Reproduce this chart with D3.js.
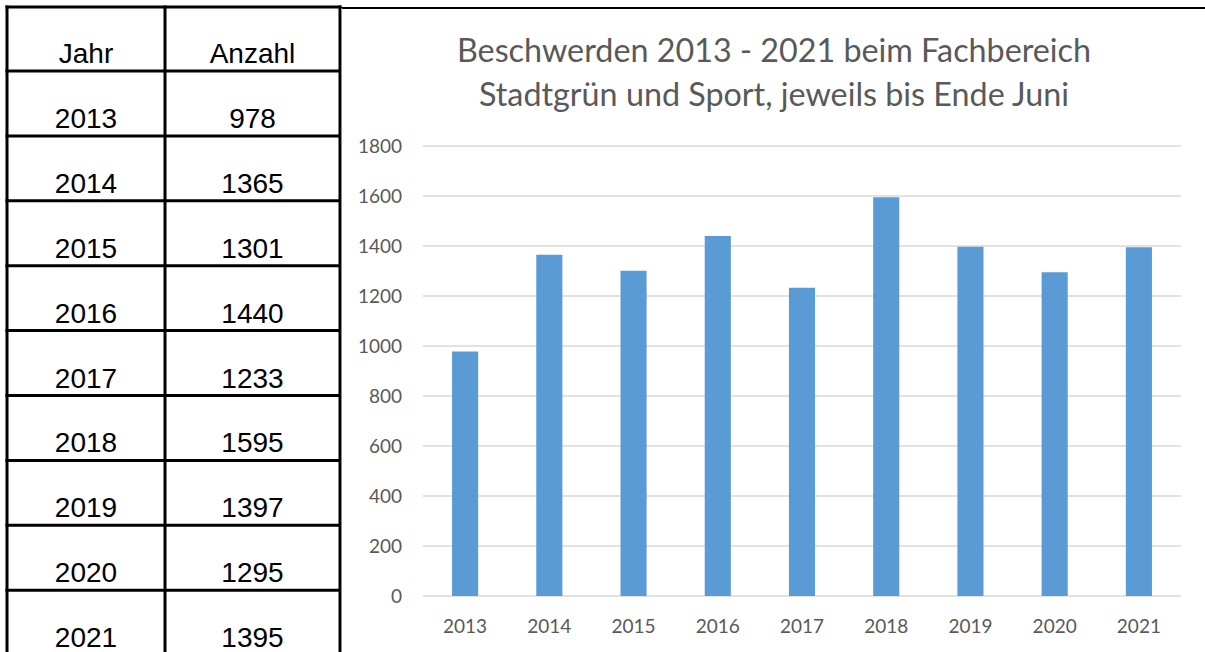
<!DOCTYPE html>
<html><head><meta charset="utf-8">
<script src="https://cdn.jsdelivr.net/npm/d3@7"></script>
<style>body{margin:0;background:#fff;}svg{display:block;}</style>
</head><body>
<svg id="c" width="1205" height="652"></svg>
<script>
const years = ["2013","2014","2015","2016","2017","2018","2019","2020","2021"];
const counts = [978,1365,1301,1440,1233,1595,1397,1295,1395];
const yTicks = [0,200,400,600,800,1000,1200,1400,1600,1800];
const tableHeader = ["Jahr","Anzahl"];
const titleLines = ["Beschwerden 2013 - 2021 beim Fachbereich","Stadtgrün und Sport, jeweils bis Ende Juni"];

(function(){
const svg = d3.select("#c");

// ---- Table ----
const tX = [7,165,340];
const rowTop = 7, headerBottom = 71, rowH = 64.9;
const rowLines = [rowTop, headerBottom];
for (let i=1;i<=years.length;i++) rowLines.push(headerBottom + i*rowH);
const tbl = svg.append("g");
rowLines.forEach(yy=>{
  tbl.append("line").attr("x1",tX[0]-1.5).attr("x2",tX[2]+1.5).attr("y1",yy).attr("y2",yy)
    .attr("stroke","#000").attr("stroke-width",3);
});
tX.forEach(xx=>{
  tbl.append("line").attr("x1",xx).attr("x2",xx).attr("y1",rowTop-1.5).attr("y2",700)
    .attr("stroke","#000").attr("stroke-width",3);
});
const colC = [(tX[0]+tX[1])/2+0,(tX[1]+tX[2])/2];
const tfont = "Liberation Sans, Arial, sans-serif";
const tsize = 28;
tableHeader.forEach((h,i)=>{
  tbl.append("text").attr("x",colC[i]).attr("y",headerBottom-8).attr("text-anchor","middle")
    .attr("font-family",tfont).attr("font-size",tsize).text(h);
});
years.forEach((yr,r)=>{
  const base = headerBottom + (r+1)*rowH - 8;
  tbl.append("text").attr("x",colC[0]).attr("y",base).attr("text-anchor","middle")
    .attr("font-family",tfont).attr("font-size",tsize).text(yr);
  tbl.append("text").attr("x",colC[1]).attr("y",base).attr("text-anchor","middle")
    .attr("font-family",tfont).attr("font-size",tsize).text(counts[r]);
});

// chart frame lines
svg.append("line").attr("x1",340).attr("x2",1205).attr("y1",8).attr("y2",8).attr("stroke","#000").attr("stroke-width",2);
svg.append("line").attr("x1",341.5).attr("x2",341.5).attr("y1",8).attr("y2",652).attr("stroke","#8c8c8c").attr("stroke-width",1);

// ---- Chart ----
const pL = 423, pR = 1181, pT = 146, pB = 596;
const x = d3.scaleBand().domain(years).range([pL,pR]).paddingInner(0.69).paddingOuter(0.345);
const y = d3.scaleLinear().domain([0,1800]).range([pB,pT]);

const font = "Lato, 'Open Sans', sans-serif";
const g = svg.append("g");
g.selectAll("line.grid").data(yTicks).join("line").attr("class","grid")
  .attr("x1",pL).attr("x2",pR).attr("y1",d=>y(d)).attr("y2",d=>y(d))
  .attr("stroke","#d9d9d9").attr("stroke-width",1.5);

const yAxis = d3.axisLeft(y).tickValues(yTicks).tickFormat(d3.format("d")).tickSize(0).tickPadding(0);
const ya = g.append("g").attr("transform",`translate(${pL-21},0)`).call(yAxis);
ya.select(".domain").remove();
ya.selectAll("text").attr("font-family",font).attr("font-size",19).attr("fill","#595959");

g.selectAll("rect.bar").data(counts).join("rect").attr("class","bar")
  .attr("x",(d,i)=>x(years[i])).attr("width",x.bandwidth())
  .attr("y",d=>y(d)).attr("height",d=>y(0)-y(d)).attr("fill","#5b9bd5");

const xAxis = d3.axisBottom(x).tickSize(0).tickPadding(0);
const xa = g.append("g").attr("transform",`translate(0,619)`).call(xAxis);
xa.select(".domain").remove();
xa.selectAll("text").attr("font-family",font).attr("font-size",19).attr("fill","#595959");

svg.selectAll("text.title").data(titleLines).join("text").attr("class","title")
  .attr("x",774).attr("y",(d,i)=>62+i*44).attr("text-anchor","middle")
  .attr("font-family",font).attr("font-size",32.3).attr("fill","#595959").text(d=>d);
})();
</script>
</body></html>
